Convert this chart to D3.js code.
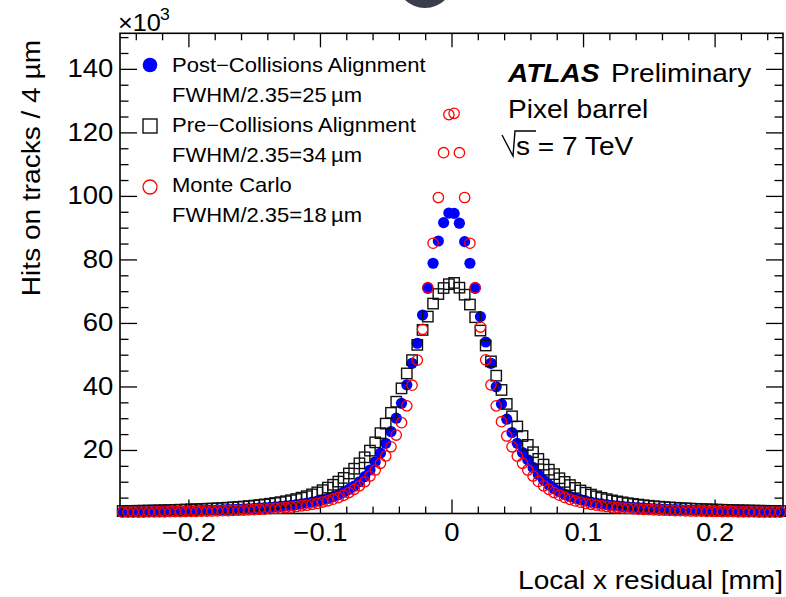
<!DOCTYPE html>
<html>
<head>
<meta charset="utf-8">
<script src="https://cdn.jsdelivr.net/npm/d3@7.9.0/dist/d3.min.js"></script>
<style>
  body { margin: 0; background: #fff; }
  svg { display: block; font-family: 'Liberation Sans', Arial, Helvetica, sans-serif; }
</style>
</head>
<body>
<svg id="chart" width="786" height="597"></svg>
<script>
// Histogram binning: 4 um bins over the displayed range (mm)
const BIN_LOW = -0.252;
const BIN_WIDTH = 0.004;

// Hits per bin, in units of 10^3, read left to right
const postCollisions = [
  0.58,
  0.6, 0.62, 0.64, 0.66, 0.68, 0.7, 0.73, 0.76, 0.79, 0.82, 0.85, 0.88, 0.92, 0.96, 1.0, 1.05,
  1.1, 1.15, 1.21, 1.27, 1.33, 1.4, 1.47, 1.55, 1.65, 1.75, 1.85, 1.96, 2.1, 2.25, 2.42, 2.6,
  2.8, 3.02, 3.3, 3.6, 3.92, 4.3, 4.78, 5.3, 5.9, 6.7, 7.6, 8.6, 10.0, 11.6, 13.7, 16.3,
  19.0, 22.1, 25.8, 30.0, 34.7, 40.5, 47.3, 53.6, 62.5, 70.9, 78.8, 85.8, 91.6, 94.6,
  94.5, 91.4, 85.6, 78.8, 70.9, 62.0, 54.0, 47.3, 39.9, 34.5, 29.7, 25.5, 22.1, 19.2, 16.9, 14.5,
  12.3, 10.5, 9.0, 7.8, 6.85, 6.05, 5.4, 4.85, 4.35, 3.95, 3.6, 3.3, 3.02, 2.8, 2.6, 2.42,
  2.26, 2.11, 1.97, 1.85, 1.74, 1.64, 1.55, 1.47, 1.4, 1.33, 1.27, 1.21, 1.15, 1.1, 1.05, 1.0,
  0.96, 0.92, 0.88, 0.85, 0.82, 0.79, 0.76, 0.73, 0.7, 0.68, 0.66, 0.64, 0.62, 0.6,
  0.58
];

const preCollisions = [
  0.77,
  0.79, 0.83, 0.86, 0.89, 0.92, 0.96, 1.0, 1.04, 1.09, 1.14, 1.19, 1.24, 1.29, 1.35, 1.41, 1.49,
  1.56, 1.64, 1.73, 1.83, 1.94, 2.06, 2.18, 2.33, 2.48, 2.66, 2.86, 3.07, 3.3, 3.56, 3.85, 4.17,
  4.55, 4.98, 5.45, 6.02, 6.65, 7.35, 8.15, 9.05, 10.05, 11.2, 12.6, 14.1, 15.8, 17.7, 19.8, 22.4,
  25.3, 28.3, 31.7, 35.2, 39.4, 44.1, 48.3, 53.1, 57.8, 62.0, 66.1, 69.1, 71.0, 72.2,
  72.6, 71.1, 68.9, 65.8, 61.8, 57.6, 52.9, 47.9, 43.4, 38.9, 34.5, 30.6, 27.4, 24.4, 21.6, 19.3,
  17.2, 15.4, 13.8, 12.4, 11.1, 9.95, 8.95, 8.05, 7.25, 6.55, 5.95, 5.4, 4.92, 4.5, 4.12, 3.8,
  3.5, 3.23, 3.0, 2.8, 2.6, 2.43, 2.28, 2.14, 2.01, 1.9, 1.8, 1.7, 1.61, 1.53, 1.46, 1.39,
  1.33, 1.27, 1.22, 1.17, 1.12, 1.07, 1.03, 0.99, 0.95, 0.91, 0.88, 0.85, 0.82, 0.79,
  0.76
];

const monteCarlo = [
  0.42,
  0.43, 0.44, 0.45, 0.46, 0.48, 0.5, 0.52, 0.54, 0.56, 0.58, 0.6, 0.63, 0.66, 0.69, 0.72, 0.75,
  0.79, 0.83, 0.87, 0.92, 0.97, 1.02, 1.08, 1.15, 1.22, 1.3, 1.4, 1.5, 1.6, 1.7, 1.85, 2.0,
  2.2, 2.4, 2.6, 2.9, 3.2, 3.6, 4.0, 4.5, 5.0, 5.7, 6.6, 7.6, 8.7, 10.0, 11.8, 13.7,
  15.8, 18.1, 21.0, 24.7, 28.6, 33.9, 40.4, 48.3, 58.0, 71.1, 85.1, 99.5, 113.6, 125.6,
  126.0, 113.6, 99.5, 85.1, 71.1, 58.7, 48.4, 40.5, 33.9, 28.9, 24.4, 21.0, 18.1, 15.8, 13.7, 11.8,
  10.1, 8.7, 7.6, 6.6, 5.75, 5.05, 4.45, 3.95, 3.55, 3.2, 2.9, 2.62, 2.4, 2.2, 2.02, 1.86,
  1.72, 1.6, 1.49, 1.39, 1.3, 1.22, 1.15, 1.08, 1.02, 0.97, 0.92, 0.87, 0.83, 0.79, 0.75, 0.72,
  0.69, 0.66, 0.63, 0.6, 0.58, 0.56, 0.54, 0.52, 0.5, 0.48, 0.46, 0.45, 0.44, 0.43,
  0.42
];

const xTickValues = [-0.2, -0.1, 0, 0.1, 0.2];
const yTickValues = [20, 40, 60, 80, 100, 120, 140];

const legendLabels = [
  'Post\u2212Collisions Alignment',
  'Pre\u2212Collisions Alignment',
  'Monte Carlo'
];
const legendWidths = ['FWHM/2.35=25\u2009\u00b5m', 'FWHM/2.35=34\u2009\u00b5m', 'FWHM/2.35=18\u2009\u00b5m'];

// text in the original is a bit wider than Arial metrics
const SX = 1.1;

const frame = { left: 120, right: 783, top: 33.3, bottom: 513.5 };

const svg = d3.select('#chart');

svg.append('rect')
  .attr('width', 786)
  .attr('height', 597)
  .attr('fill', '#fff');

// dark round shape peeking in at the top of the screenshot
svg.append('circle')
  .attr('cx', 425)
  .attr('cy', -21)
  .attr('r', 29)
  .attr('fill', '#3b3e4c');

const x = d3.scaleLinear()
  .domain([BIN_LOW, -BIN_LOW])
  .range([frame.left, frame.right]);

const y = d3.scaleLinear()
  .domain([0, 151.2])
  .range([frame.bottom, frame.top]);

const binCenter = i => BIN_LOW + BIN_WIDTH * (i + 0.5);

function text(g, px, py, str, size, opts = {}) {
  return g.append('text')
    .attr('transform', `translate(${px},${py}) scale(${SX},1)`)
    .attr('text-anchor', opts.anchor || 'start')
    .attr('font-size', size)
    .attr('font-weight', opts.weight || null)
    .attr('font-style', opts.style || null)
    .attr('fill', '#000')
    .text(str);
}

// ---- axes (ticks pointing inward, ROOT style)
const xMinor = d3.range(-0.24, 0.2401, 0.02).filter(v => Math.abs(v * 10 - Math.round(v * 10)) > 1e-6);
const yMinor = d3.range(5, 151, 5).filter(v => v % 20 !== 0);

function styleAxis(g) {
  g.select('.domain').remove();
  g.selectAll('line').attr('stroke', '#000').attr('stroke-width', 1.3);
}

const xFmt = d => (d === 0 ? '0' : d3.format('.1f')(d));

const bottomAxis = svg.append('g')
  .attr('transform', `translate(0,${frame.bottom})`)
  .call(d3.axisBottom(x).tickValues(xTickValues).tickFormat(xFmt).tickSize(-14).tickSizeOuter(0).tickPadding(10))
  .call(styleAxis);

bottomAxis.selectAll('text')
  .attr('font-size', 25)
  .attr('fill', '#000')
  .attr('font-family', "'Liberation Sans', Arial, sans-serif")
  .attr('transform', `scale(${SX},1)`);

svg.append('g')
  .attr('transform', `translate(0,${frame.bottom})`)
  .call(d3.axisBottom(x).tickValues(xMinor).tickFormat('').tickSize(-7).tickSizeOuter(0))
  .call(styleAxis);

svg.append('g')
  .attr('transform', `translate(0,${frame.top})`)
  .call(d3.axisTop(x).tickValues(xTickValues).tickFormat('').tickSize(-14).tickSizeOuter(0))
  .call(styleAxis);

svg.append('g')
  .attr('transform', `translate(0,${frame.top})`)
  .call(d3.axisTop(x).tickValues(xMinor).tickFormat('').tickSize(-7).tickSizeOuter(0))
  .call(styleAxis);

const leftAxis = svg.append('g')
  .attr('transform', `translate(${frame.left},0)`)
  .call(d3.axisLeft(y).tickValues(yTickValues).tickSize(-17).tickSizeOuter(0).tickPadding(6))
  .call(styleAxis);

leftAxis.selectAll('text')
  .attr('font-size', 25)
  .attr('fill', '#000')
  .attr('font-family', "'Liberation Sans', Arial, sans-serif")
  .attr('transform', `scale(${SX},1)`);

svg.append('g')
  .attr('transform', `translate(${frame.left},0)`)
  .call(d3.axisLeft(y).tickValues(yMinor).tickFormat('').tickSize(-8.5).tickSizeOuter(0))
  .call(styleAxis);

svg.append('g')
  .attr('transform', `translate(${frame.right},0)`)
  .call(d3.axisRight(y).tickValues(yTickValues).tickFormat('').tickSize(-17).tickSizeOuter(0))
  .call(styleAxis);

svg.append('g')
  .attr('transform', `translate(${frame.right},0)`)
  .call(d3.axisRight(y).tickValues(yMinor).tickFormat('').tickSize(-8.5).tickSizeOuter(0))
  .call(styleAxis);

svg.append('rect')
  .attr('x', frame.left)
  .attr('y', frame.top)
  .attr('width', frame.right - frame.left)
  .attr('height', frame.bottom - frame.top)
  .attr('fill', 'none')
  .attr('stroke', '#000')
  .attr('stroke-width', 1.6);

// ---- axis titles
text(svg, 783, 589, 'Local x residual [mm]', 25.5, { anchor: 'end' });

svg.append('text')
  .attr('transform', `translate(40,40) rotate(-90) scale(${SX},1)`)
  .attr('text-anchor', 'end')
  .attr('font-size', 25.5)
  .text('Hits on tracks / 4 \u00b5m');

text(svg, 118, 31, '\u00d710', 23);
text(svg, 160, 20, '3', 16);

// ---- data points
const plot = svg.append('g');

plot.selectAll('circle.post')
  .data(postCollisions)
  .join('circle')
  .attr('class', 'post')
  .attr('cx', (d, i) => x(binCenter(i)))
  .attr('cy', d => y(d))
  .attr('r', 5.6)
  .attr('fill', '#0000ff');

plot.selectAll('rect.pre')
  .data(preCollisions)
  .join('rect')
  .attr('class', 'pre')
  .attr('x', (d, i) => x(binCenter(i)) - 5.2)
  .attr('y', d => y(d) - 5.2)
  .attr('width', 10.4)
  .attr('height', 10.4)
  .attr('fill', 'none')
  .attr('stroke', '#111')
  .attr('stroke-width', 1.4);

plot.selectAll('circle.mc')
  .data(monteCarlo)
  .join('circle')
  .attr('class', 'mc')
  .attr('cx', (d, i) => x(binCenter(i)))
  .attr('cy', d => y(d))
  .attr('r', 5.2)
  .attr('fill', 'none')
  .attr('stroke', '#ff0000')
  .attr('stroke-width', 1.3);

// ---- legend
const legend = svg.append('g');
const rowY = [65, 126, 187];

legend.append('circle')
  .attr('cx', 150).attr('cy', rowY[0]).attr('r', 7.3)
  .attr('fill', '#0000ff');

legend.append('rect')
  .attr('x', 143).attr('y', rowY[1] - 7).attr('width', 14).attr('height', 14)
  .attr('fill', 'none').attr('stroke', '#111').attr('stroke-width', 1.4);

legend.append('circle')
  .attr('cx', 150).attr('cy', rowY[2]).attr('r', 7)
  .attr('fill', 'none').attr('stroke', '#ff0000').attr('stroke-width', 1.3);

legendLabels.forEach((lab, i) => {
  text(legend, 172, 72 + i * 60, lab, 20);
  text(legend, 172, 102 + i * 60, legendWidths[i], 20);
});

// ---- ATLAS label
const atlas = svg.append('g');
text(atlas, 508, 82, 'ATLAS', 25.5, { weight: 'bold', style: 'italic' });
text(atlas, 611, 82, 'Preliminary', 25.5);
text(atlas, 508, 118, 'Pixel barrel', 25.5);
text(atlas, 516, 155, 's = 7 TeV', 25.5);

atlas.append('path')
  .attr('d', 'M502,135 L513,156 L515,131 L536,131')
  .attr('fill', 'none')
  .attr('stroke', '#000')
  .attr('stroke-width', 1.4);
</script>
</body>
</html>
